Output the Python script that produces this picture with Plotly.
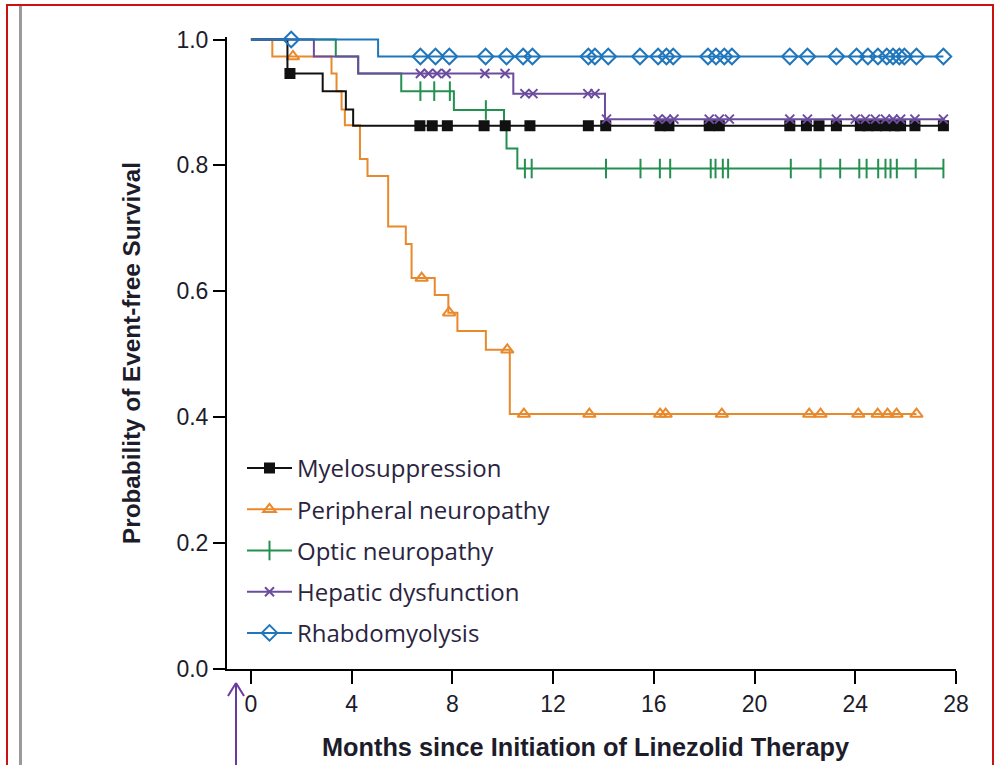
import plotly.graph_objects as go

# ---------------- data ----------------
x_tick_vals = [0, 4, 8, 12, 16, 20, 24, 28]
y_tick_vals = [0.0, 0.2, 0.4, 0.6, 0.8, 1.0]
y_tick_text = ["0.0", "0.2", "0.4", "0.6", "0.8", "1.0"]

series_names = ["Myelosuppression", "Peripheral neuropathy", "Optic neuropathy",
                "Hepatic dysfunction", "Rhabdomyolysis"]

myelo_event_t = [1.45, 2.85, 3.77, 4.06]
myelo_event_s = [0.946, 0.918, 0.889, 0.863]
myelo_censor_t = [1.55, 6.71, 7.2, 7.8, 9.26, 10.1, 11.08, 13.4, 14.09, 16.25, 16.6,
                  18.2, 18.6, 21.4, 22.06, 22.56, 23.25, 24.2, 24.5, 24.85, 25.2,
                  25.55, 25.8, 26.37, 27.5]

periph_event_t = [0.85, 3.2, 3.4, 3.6, 3.73, 4.33, 4.63, 5.45, 6.15, 6.38, 7.3, 7.84,
                  8.2, 9.33, 10.28]
periph_event_s = [0.973, 0.946, 0.918, 0.889, 0.864, 0.810, 0.783, 0.703, 0.675, 0.621,
                  0.594, 0.566, 0.537, 0.507, 0.405]
periph_censor_t = [1.67, 6.78, 7.87, 10.18, 10.84, 13.44, 16.25, 16.47, 18.7, 22.17,
                   22.62, 24.12, 24.89, 25.28, 25.64, 26.43]

optic_event_t = [3.37, 4.26, 5.97, 8.06, 10.05, 10.15, 10.58]
optic_event_s = [0.973, 0.946, 0.918, 0.888, 0.858, 0.827, 0.795]
optic_censor_t = [6.73, 7.28, 7.9, 9.33, 10.88, 11.15, 14.1, 15.47, 16.24, 16.65, 18.26,
                  18.45, 18.74, 18.95, 21.44, 22.62, 23.4, 24.16, 24.45, 24.91, 25.2,
                  25.4, 25.65, 26.4, 27.5]

hepatic_event_t = [2.5, 4.26, 10.42, 14.06]
hepatic_event_s = [0.973, 0.946, 0.914, 0.8735]
hepatic_censor_t = [6.73, 7.05, 7.39, 7.75, 9.29, 10.09, 10.88, 11.2, 13.38, 13.66, 14.12,
                    16.17, 16.5, 16.8, 18.2, 18.6, 19.0, 21.4, 22.1, 23.25, 24.0, 24.4,
                    24.8, 25.2, 25.5, 25.8, 26.37, 27.5]

rhabdo_event_t = [5.05]
rhabdo_event_s = [0.973]
rhabdo_censor_t = [1.6, 6.73, 7.33, 7.88, 9.32, 10.15, 10.81, 11.18, 13.4, 13.66, 14.19,
                   15.45, 16.17, 16.5, 16.77, 18.15, 18.47, 18.8, 19.1, 21.4, 22.1, 23.25,
                   24.05, 24.5, 24.9, 25.25, 25.5, 25.75, 25.95, 26.43, 27.5]

# ---------------- styles ----------------
colors = ["#111111", "#e8892c", "#23904f", "#6b4c9f", "#1f76bb"]
symbols = ["square", "triangle-up-open", "line-ns", "x-thin", "diamond-open"]
msizes = [9, 11, 14, 9, 12]

W, H = 995, 765
L, R, T, B = 227, 39, 37, 96
PW, PH = W - L - R, H - T - B


def px(xp):
    return (xp - L) / PW


def py(yp):
    return (H - B - yp) / PH


def surv_at(t, ev_t, ev_s):
    s = 1.0
    for et, es in zip(ev_t, ev_s):
        if et <= t:
            s = es
    return s


data = [
    (myelo_event_t, myelo_event_s, myelo_censor_t),
    (periph_event_t, periph_event_s, periph_censor_t),
    (optic_event_t, optic_event_s, optic_censor_t),
    (hepatic_event_t, hepatic_event_s, hepatic_censor_t),
    (rhabdo_event_t, rhabdo_event_s, rhabdo_censor_t),
]

fig = go.Figure()
draw_order = [2, 1, 0, 3, 4]
for i in draw_order:
    ev_t, ev_s, c_t = data[i]
    end_t = max(c_t + ev_t)
    xs = [0.0] + list(ev_t) + [end_t]
    ys = [1.0] + list(ev_s) + [ev_s[-1]]
    fig.add_trace(go.Scatter(
        x=xs, y=ys, mode="lines", line=dict(color=colors[i], width=2, shape="hv"),
        showlegend=False, hoverinfo="skip"))
    cy = [surv_at(t, ev_t, ev_s) for t in c_t]
    fig.add_trace(go.Scatter(
        x=c_t, y=cy, mode="markers", cliponaxis=False,
        marker=dict(symbol=symbols[i], size=msizes[i], color=colors[i],
                    line=dict(color=colors[i], width=2)),
        showlegend=False))

for i in range(5):
    fig.add_trace(go.Scatter(
        x=[None], y=[None], mode="lines+markers", name=series_names[i],
        legendgroup=series_names[i],
        line=dict(color=colors[i], width=2),
        marker=dict(symbol=symbols[i], size=msizes[i], color=colors[i],
                    line=dict(color=colors[i], width=2))))

tick_font = dict(family="Liberation Sans, Arial, sans-serif", size=23, color="#1c1c2a")

fig.update_layout(
    width=W, height=H,
    margin=dict(l=L, r=R, t=T, b=B, pad=0),
    paper_bgcolor="white", plot_bgcolor="white",
    showlegend=True,
    legend=dict(x=px(242), y=py(446), xanchor="left", yanchor="top",
                font=dict(family="Open Sans, sans-serif", size=24, color="#2a2440"),
                bgcolor="rgba(0,0,0,0)", tracegroupgap=7, itemwidth=45,
                traceorder="grouped"),
    xaxis=dict(range=[-0.95, 28], tickvals=x_tick_vals, ticks="outside", ticklen=13,
               tickwidth=2, tickcolor="black", showline=True, linecolor="black",
               linewidth=2, showgrid=False, zeroline=False, tickfont=tick_font,
               fixedrange=True),
    yaxis=dict(range=[0, 1.004], tickvals=y_tick_vals, ticktext=y_tick_text,
               ticks="outside", ticklen=12, tickwidth=2, tickcolor="black",
               showline=True, linecolor="black", linewidth=2, showgrid=False,
               zeroline=False, tickfont=tick_font, fixedrange=True),
)

# axis titles
fig.add_annotation(text="<b>Months since Initiation of Linezolid Therapy</b>",
                   xref="paper", yref="paper", x=px(585), y=py(747),
                   showarrow=False, xanchor="center", yanchor="middle",
                   font=dict(family="Liberation Sans, Arial, sans-serif", size=25.3,
                             color="#1c1c2a"))
fig.add_annotation(text="<b>Probability of Event-free Survival</b>",
                   xref="paper", yref="paper", x=px(131), y=py(353), textangle=-90,
                   showarrow=False, xanchor="center", yanchor="middle",
                   font=dict(family="Liberation Sans, Arial, sans-serif", size=24.3,
                             color="#1c1c2a"))

# frame decorations
fig.add_shape(type="rect", xref="paper", yref="paper",
              x0=px(7), x1=px(993), y0=py(800), y1=py(5),
              line=dict(color="#cc1111", width=2), layer="above")
fig.add_shape(type="line", xref="paper", yref="paper",
              x0=px(20.5), x1=px(20.5), y0=py(800), y1=py(6),
              line=dict(color="#9a9a9a", width=3))

# purple arrow marking start of therapy
arrow_col = "#6a3aa0"
fig.add_shape(type="line", xref="paper", yref="paper",
              x0=px(236), x1=px(236), y0=py(766), y1=py(683),
              line=dict(color=arrow_col, width=2))
fig.add_shape(type="line", xref="paper", yref="paper",
              x0=px(228), x1=px(236), y0=py(696), y1=py(683),
              line=dict(color=arrow_col, width=2))
fig.add_shape(type="line", xref="paper", yref="paper",
              x0=px(244), x1=px(236), y0=py(696), y1=py(683),
              line=dict(color=arrow_col, width=2))

fig.write_html("out.html")
